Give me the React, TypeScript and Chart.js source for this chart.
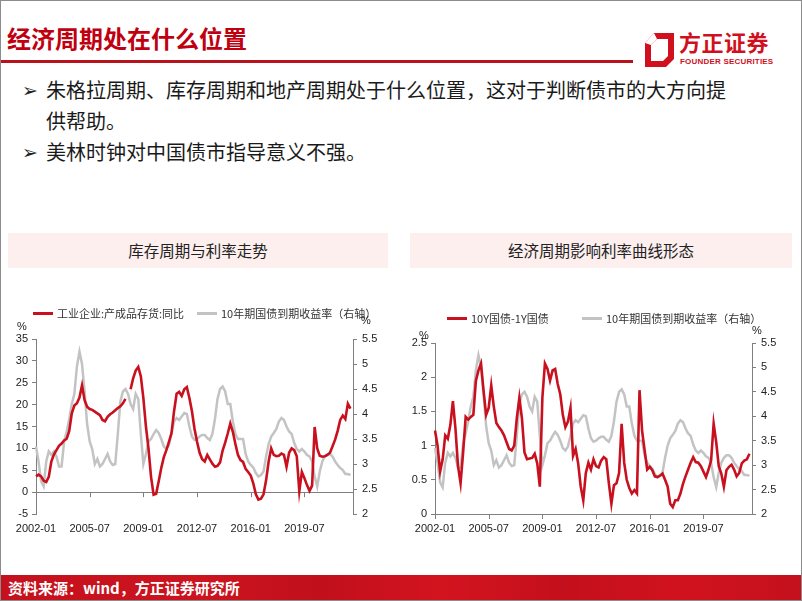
import React, { useEffect, useRef } from "react";
import { Chart, registerables } from "chart.js";

Chart.register(...registerables);

// ---------- DATA (bimonthly samples, 2002-01 .. 2022-07) ----------
const START_YEAR = 2002;
const N_CATEGORIES = 125; // 2002-01 .. 2022-09, every 2 months
const CATEGORIES: string[] = Array.from({ length: N_CATEGORIES }, (_, i) => {
  const m = i * 2;
  const y = START_YEAR + Math.floor(m / 12);
  const mo = (m % 12) + 1;
  return `${y}-${String(mo).padStart(2, "0")}`;
});
const TICK_LABELS = ["2002-01", "2005-07", "2009-01", "2012-07", "2016-01", "2019-07"];

// 工业企业:产成品存货:同比 (%)
const INVENTORY_YOY: (number | null)[] = [
  3.6, 4.0, 3.6, 2.6, 2.3, 3.5,
  7.0, 8.6, 9.6, 10.6, 11.1, 11.8,
  12.2, 14.0, 18.0, 19.8, 20.3, 21.6,
  24.4, 21.0, 19.5, 19.0, 18.8, 18.4,
  18.0, 17.6, 16.5, 16.2, 17.2, 17.8,
  18.2, 18.7, 19.2, 19.6, 20.3, 21.3,
  null, 23.5, 26.0, 27.8, 28.6, 26.5,
  21.5, 15.0, 10.0, 3.5, -0.6, -0.4,
  2.5, 5.5, 8.0, 9.6, 11.5, 13.5,
  18.5, 22.5, 22.9, 22.0, 23.5, 24.0,
  21.5, 18.5, 14.5, 11.5, 9.0, 7.5,
  7.0, 8.5, 7.5, 6.5, 5.8, 6.0,
  6.8, 9.5, 11.3, 13.4, 15.7, 13.8,
  11.0, 8.5, 7.3, 6.9, 5.3, 4.6,
  3.8, 2.0, -0.5, -1.7, -1.5, -0.5,
  2.7, 7.0, 10.0, 8.5, 8.2, 8.3,
  8.8, 8.5, 5.8, 9.0, 10.0, 9.6,
  8.2, 0.2, 4.6, 3.2, 1.6, 0.3,
  1.5, 14.9, 10.0, 8.3, 8.1, 8.2,
  8.5, 9.0, 10.5, 12.0, 14.0, 16.5,
  17.5, 16.7, 20.2, 19.1,
];

// 10年期国债到期收益率 (%)
const YIELD_10Y: number[] = [
  3.35, 3.05, 2.65, 2.55, 3.05, 3.25,
  3.18, 3.25, 3.15, 2.95, 2.95, 3.45,
  3.65, 3.9, 4.2, 4.4, 4.95, 5.25,
  5.0, 4.45, 3.8, 3.45, 3.3, 3.0,
  3.1, 2.95, 3.0, 3.1, 3.2, 3.05,
  2.98, 3.0, 3.6, 4.25, 4.45, 4.5,
  4.4, 4.2, 4.1, 4.4, 4.3, 3.6,
  3.0, 3.2, 3.45, 3.5, 3.6, 3.68,
  3.62, 3.5, 3.35, 3.3, 3.38, 3.6,
  3.85, 3.92, 3.88, 3.95, 4.02, 4.0,
  3.75, 3.55, 3.48, 3.5, 3.55, 3.58,
  3.58, 3.52, 3.48, 3.6, 3.9, 4.3,
  4.5, 4.55, 4.45, 4.2, 4.2, 3.85,
  3.6, 3.5, 3.5, 3.5, 3.2, 3.05,
  2.98, 2.93, 2.82, 2.75, 2.78, 2.85,
  3.15, 3.4, 3.55, 3.62, 3.7, 3.85,
  3.92, 3.88, 3.75, 3.65, 3.6, 3.42,
  3.3, 3.25, 3.3, 3.25, 3.18, 3.15,
  3.05, 2.75, 2.55, 2.85, 3.05, 3.15,
  3.2, 3.2, 3.15, 3.05, 2.98, 2.92,
  2.88, 2.8, 2.8, 2.78,
];

// 10Y国债-1Y国债 (%)
const SPREAD_10Y_1Y: number[] = [
  1.22, 1.0, 0.62, 0.8, 1.15, 1.1,
  1.3, 1.65, 1.25, 0.7, 0.45, 0.9,
  1.42, 1.38, 1.42, 1.45, 1.95, 2.1,
  2.2, 1.8, 1.45, 1.55, 1.88, 1.57,
  1.33, 1.27, 1.22, 1.15, 1.05, 0.95,
  0.93, 1.0, 1.4, 1.7, 1.4, 0.9,
  0.8, 0.81, 0.82, 0.88, 0.74, 0.4,
  1.7, 2.2, 2.12, 1.95, 2.1, 2.12,
  1.9, 1.75, 1.45, 1.27, 1.35, 1.55,
  0.85, 0.95, 0.74, 0.4, 0.2, 0.6,
  0.75, 0.65, 0.8, 0.7, 0.68, 0.78,
  0.83, 0.8, 0.45, 0.15, 0.42, 0.45,
  0.6, 1.32, 0.75, 0.5, 0.38, 0.3,
  0.35, 0.3, 1.81, 1.22, 0.93, 0.65,
  0.69, 0.64, 0.55, 0.54, 0.56, 0.59,
  0.5, 0.4, 0.15, 0.1, 0.2, 0.2,
  0.3, 0.44, 0.55, 0.65, 0.75, 0.83,
  0.76, 0.75, 0.7, 0.62, 0.54, 0.65,
  0.78, 1.32, 1.05, 0.7, 0.59, 0.4,
  0.64, 0.69, 0.72, 0.65, 0.55, 0.6,
  0.74, 0.78, 0.8, 0.88,
];

// ---------- STYLE ----------
const RED = "#c8101e";
const GRAY = "#c3c3c3";
const AXIS = "#7f7f7f";
const TEXT = "#222222";
const FONT = "'Liberation Sans', Arial, sans-serif";
const CJK = "'Noto Sans CJK SC', 'Noto Sans', sans-serif";

const fmt = (v: any) => String(Math.round(Number(v) * 100) / 100);

const baseAxisPlugin = {
  id: "baseAxis",
  beforeDatasetsDraw(chart: any) {
    const { ctx, chartArea, scales } = chart;
    const y = scales.y.getPixelForValue(0);
    ctx.save();
    ctx.strokeStyle = AXIS;
    ctx.lineWidth = 1;
    ctx.beginPath();
    ctx.moveTo(chartArea.left, Math.round(y) + 0.5);
    ctx.lineTo(chartArea.right, Math.round(y) + 0.5);
    CATEGORIES.forEach((lab, i) => {
      if (TICK_LABELS.includes(lab)) {
        const x = Math.round(scales.x.getPixelForValue(i)) + 0.5;
        ctx.moveTo(x, y);
        ctx.lineTo(x, y + 5);
      }
    });
    ctx.stroke();
    ctx.restore();
  },
};

function makeConfig(
  redData: (number | null)[],
  leftMin: number,
  leftMax: number,
  leftStep: number,
  leftWidth: number,
  rightWidth: number,
  topPad: number
): any {
  return {
    type: "line",
    data: {
      labels: CATEGORIES,
      datasets: [
        {
          data: redData,
          borderColor: RED,
          borderWidth: 2.6,
          pointRadius: 0,
          tension: 0,
          yAxisID: "y",
          spanGaps: false,
        },
        {
          data: YIELD_10Y,
          borderColor: GRAY,
          borderWidth: 2.5,
          pointRadius: 0,
          tension: 0,
          yAxisID: "y1",
        },
      ],
    },
    options: {
      responsive: false,
      animation: false,
      layout: { padding: { top: topPad, left: 0, right: 0, bottom: 0 } },
      plugins: { legend: { display: false }, tooltip: { enabled: false } },
      scales: {
        x: {
          type: "category",
          offset: false,
          grid: { display: false, drawTicks: false },
          border: { display: false },
          ticks: {
            autoSkip: false,
            maxRotation: 0,
            minRotation: 0,
            padding: 8,
            color: TEXT,
            font: { family: FONT, size: 11 },
            callback: (_v: any, i: number) =>
              TICK_LABELS.includes(CATEGORIES[i]) ? CATEGORIES[i] : null,
          },
          afterFit: (s: any) => {
            s.height = 26;
          },
        },
        y: {
          position: "left",
          min: leftMin,
          max: leftMax,
          ticks: {
            stepSize: leftStep,
            padding: 4,
            color: TEXT,
            font: { family: FONT, size: 11 },
            callback: fmt,
          },
          grid: { drawOnChartArea: false, drawTicks: true, tickLength: 4, color: AXIS },
          border: { display: true, color: AXIS },
          afterFit: (s: any) => {
            s.width = leftWidth;
          },
        },
        y1: {
          position: "right",
          min: 2,
          max: 5.5,
          ticks: {
            stepSize: 0.5,
            padding: 5,
            color: TEXT,
            font: { family: FONT, size: 11 },
            callback: fmt,
          },
          grid: { drawOnChartArea: false, drawTicks: true, tickLength: 4, color: AXIS },
          border: { display: true, color: AXIS },
          afterFit: (s: any) => {
            s.width = rightWidth;
          },
        },
      },
    },
    plugins: [baseAxisPlugin],
  };
}

function LineChart(props: {
  redData: (number | null)[];
  leftMin: number;
  leftMax: number;
  leftStep: number;
  leftWidth: number;
  rightWidth: number;
  topPad: number;
  width: number;
  height: number;
}) {
  const ref = useRef<HTMLCanvasElement | null>(null);
  useEffect(() => {
    if (!ref.current) return;
    const chart = new Chart(
      ref.current,
      makeConfig(
        props.redData,
        props.leftMin,
        props.leftMax,
        props.leftStep,
        props.leftWidth,
        props.rightWidth,
        props.topPad
      )
    );
    return () => chart.destroy();
  }, []);
  return (
    <canvas
      ref={ref}
      width={props.width}
      height={props.height}
      style={{ width: props.width, height: props.height, display: "block" }}
    />
  );
}

const abs = (l: number, t: number, extra: React.CSSProperties = {}): React.CSSProperties => ({
  position: "absolute",
  left: l,
  top: t,
  ...extra,
});

function LegendItem(props: { x: number; y: number; color: string; label: string }) {
  return (
    <div style={abs(props.x, props.y - 8, { height: 16, display: "flex", alignItems: "center", whiteSpace: "nowrap" })}>
      <div style={{ width: 20, height: 3, background: props.color, marginRight: 4 }} />
      <span style={{ fontFamily: CJK, fontSize: 11, color: "#333", lineHeight: "16px" }}>{props.label}</span>
    </div>
  );
}

function SmallText(props: { x: number; y: number; text: string }) {
  return (
    <div style={abs(props.x, props.y - 7, { fontFamily: FONT, fontSize: 11, lineHeight: "14px", color: TEXT })}>
      {props.text}
    </div>
  );
}

function Bullet(props: { x: number; y: number }) {
  return (
    <div
      style={abs(props.x, props.y - 12, {
        fontFamily: "'DejaVu Sans', sans-serif",
        fontSize: 19,
        lineHeight: "24px",
        color: "#222",
      })}
    >
      ➢
    </div>
  );
}

export default function App() {
  return (
    <div
      style={{
        position: "fixed",
        left: 0,
        top: 0,
        width: 802,
        height: 601,
        background: "#ffffff",
        overflow: "hidden",
      }}
    >
      {/* Title */}
      <div
        style={abs(7, 22, {
          fontFamily: CJK,
          fontWeight: 700,
          fontSize: 24,
          lineHeight: "32px",
          color: "#c00010",
          letterSpacing: 0,
        })}
      >
        经济周期处在什么位置
      </div>
      <div style={abs(0, 60, { width: 633, height: 3, background: "#b8121c" })} />

      {/* Logo */}
      <svg style={abs(645, 33)} width={29} height={34} viewBox="0 0 29 34">
        <path d="M9 0 L29 0 L29 26 L21 34 L0 34 L0 10 Z" fill="#d0101e" />
        <path d="M12 6 L23 6 L23 23 L18 28 L6 28 L6 12 Z" fill="#ffffff" />
        <path d="M0 10 L9 0 L12 6 L6 12 Z" fill="#ffffff" />
      </svg>
      <div
        style={abs(679, 28, {
          fontFamily: CJK,
          fontWeight: 700,
          fontSize: 22,
          lineHeight: "26px",
          color: "#d0101e",
          letterSpacing: 0.5,
        })}
      >
        方正证券
      </div>
      <div
        style={abs(680, 57, {
          fontFamily: FONT,
          fontWeight: 700,
          fontSize: 8,
          lineHeight: "9px",
          color: "#d0101e",
          letterSpacing: 0.2,
          whiteSpace: "nowrap",
        })}
      >
        FOUNDER SECURITIES
      </div>

      {/* Bullets */}
      <Bullet x={22} y={90} />
      <div
        style={abs(46, 74, {
          fontFamily: CJK,
          fontSize: 20,
          lineHeight: "31px",
          color: "#1a1a1a",
          width: 700,
        })}
      >
        朱格拉周期、库存周期和地产周期处于什么位置，这对于判断债市的大方向提
        <br />
        供帮助。
      </div>
      <Bullet x={22} y={152} />
      <div style={abs(46, 136, { fontFamily: CJK, fontSize: 20, lineHeight: "31px", color: "#1a1a1a" })}>
        美林时钟对中国债市指导意义不强。
      </div>

      {/* Chart title boxes */}
      <div
        style={abs(8, 233, {
          width: 380,
          height: 35,
          background: "#fcefee",
          fontFamily: CJK,
          fontSize: 15.5,
          lineHeight: "35px",
          textAlign: "center",
          color: "#222",
        })}
      >
        库存周期与利率走势
      </div>
      <div
        style={abs(410, 233, {
          width: 382,
          height: 35,
          background: "#fcefee",
          fontFamily: CJK,
          fontSize: 15.5,
          lineHeight: "35px",
          textAlign: "center",
          color: "#222",
        })}
      >
        经济周期影响利率曲线形态
      </div>

      {/* Left chart */}
      <div style={abs(0, 295)}>
        <LineChart
          redData={INVENTORY_YOY}
          leftMin={-5}
          leftMax={35}
          leftStep={5}
          leftWidth={36}
          rightWidth={47}
          topPad={44}
          width={400}
          height={245}
        />
      </div>
      <LegendItem x={33} y={313} color={RED} label="工业企业:产成品存货:同比" />
      <LegendItem x={197} y={313} color={GRAY} label="10年期国债到期收益率（右轴）" />
      <SmallText x={17} y={326} text="%" />
      <SmallText x={361} y={320} text="%" />

      {/* Right chart */}
      <div style={abs(400, 295)}>
        <LineChart
          redData={SPREAD_10Y_1Y}
          leftMin={0}
          leftMax={2.5}
          leftStep={0.5}
          leftWidth={35}
          rightWidth={50}
          topPad={48}
          width={402}
          height={245}
        />
      </div>
      <LegendItem x={447} y={318} color={RED} label="10Y国债-1Y国债" />
      <LegendItem x={582} y={318} color={GRAY} label="10年期国债到期收益率（右轴）" />
      <SmallText x={419} y={335} text="%" />
      <SmallText x={752} y={330} text="%" />

      {/* Footer */}
      <div
        style={abs(0, 575, {
          width: 802,
          height: 26,
          background:
            "linear-gradient(90deg, #c4111d 0%, #cc1420 25%, #c10f1c 40%, #d3141f 55%, #c4101c 70%, #d0121e 85%, #c4111d 100%)",
        })}
      />
      <div
        style={abs(8, 577, {
          fontFamily: CJK,
          fontWeight: 700,
          fontSize: 15,
          lineHeight: "22px",
          color: "#ffffff",
          whiteSpace: "nowrap",
        })}
      >
        资料来源：wind，方正证券研究所
      </div>

      {/* Slide frame */}
      <div
        style={abs(0, 0, {
          width: 802,
          height: 601,
          boxSizing: "border-box",
          border: "1px solid #8c8c8c",
          pointerEvents: "none",
        })}
      />
    </div>
  );
}
